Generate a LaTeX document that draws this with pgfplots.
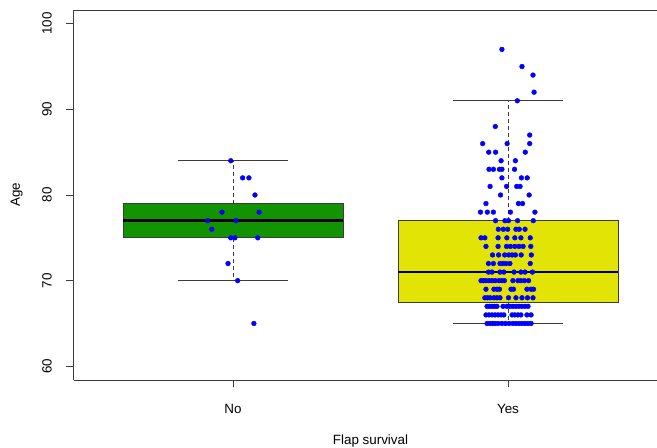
\documentclass[border=0pt]{standalone}
\usepackage{fontspec}
\setmainfont{Liberation Sans}
\usepackage{pgfplots}
\pgfplotsset{compat=1.18}
\definecolor{boxgreen}{RGB}{18,148,0}
\definecolor{boxyellow}{RGB}{226,228,6}
\definecolor{axgray}{RGB}{60,60,60}
\begin{document}
\begin{tikzpicture}
\useasboundingbox (0,0) rectangle (657bp,448bp);
\begin{axis}[
 at={(73.5bp,68bp)}, anchor=south west,
 width=583.5bp, height=370bp, scale only axis,
 xmin=0.42, xmax=2.542, ymin=58.4, ymax=101.6,
 separate axis lines,
 axis x line*=box, axis y line*=left,
 axis line style={axgray, line width=0.8bp},
 xtick={1,2}, xticklabels={No,Yes},
 ytick={60,70,80,90,100}, yticklabels={60,70,80,90,100},
 xtick pos=left, ytick pos=left,
 xtick align=outside, ytick align=outside,
 major tick length=7.5bp,
 every tick/.style={axgray, line width=0.8bp},
 every tick label/.append style={font=\fontsize{13.4bp}{16bp}\selectfont, inner sep=0pt},
 yticklabel style={xshift=-14bp, rotate=90, anchor=south},
 xticklabel style={yshift=-16.5bp, anchor=north},
 xlabel={Flap survival}, ylabel={Age},
 label style={font=\fontsize{13.4bp}{16bp}\selectfont, inner sep=0pt},
 xlabel style={at={(axis description cs:0.509,-0.173)}, anchor=base},
 ylabel style={at={(axis description cs:-0.0917,0.5)}, anchor=base},
]
% boxes (Q1..Q3)
\addplot[draw=axgray, fill=boxgreen, line width=0.8bp] coordinates {(0.6,75) (1.4,75) (1.4,79) (0.6,79)} -- cycle;
\addplot[draw=axgray, fill=boxyellow, line width=0.8bp] coordinates {(1.6,67.5) (2.4,67.5) (2.4,77) (1.6,77)} -- cycle;
% medians
\addplot[black, line width=2.8bp] coordinates {(0.6,77) (1.4,77)};
\addplot[black, line width=2.8bp] coordinates {(1.6,71) (2.4,71)};
% whiskers
\addplot[axgray, line width=0.8bp, dash pattern=on 4bp off 3bp] coordinates {(1,79) (1,84)};
\addplot[axgray, line width=0.8bp, dash pattern=on 4bp off 3bp] coordinates {(1,75) (1,70)};
\addplot[axgray, line width=0.8bp, dash pattern=on 4bp off 3bp] coordinates {(2,77) (2,91)};
\addplot[axgray, line width=0.8bp, dash pattern=on 4bp off 3bp] coordinates {(2,67.5) (2,65)};
% whisker caps
\addplot[axgray, line width=0.8bp] coordinates {(0.8,84) (1.2,84)};
\addplot[axgray, line width=0.8bp] coordinates {(0.8,70) (1.2,70)};
\addplot[axgray, line width=0.8bp] coordinates {(1.8,91) (2.2,91)};
\addplot[axgray, line width=0.8bp] coordinates {(1.8,65) (2.2,65)};
% jittered points, No
\addplot[only marks, mark=*, mark size=2.4bp, blue, mark options={draw=blue, fill=blue}] coordinates {
(0.992,84) (1.035,82) (1.058,82) (1.080,80) (0.960,78) (1.095,78)
(0.908,77) (1.011,77) (0.923,76) (0.992,75) (1.007,75) (1.090,75)
(0.982,72) (1.017,70) (1.076,65)
};
% jittered points, Yes
\addplot[only marks, mark=*, mark size=2.4bp, blue, mark options={draw=blue, fill=blue}] coordinates {
(1.978,97) (2.051,95) (2.091,94) (2.095,92) (2.034,91) (1.954,88) (2.079,87)
(1.908,86) (1.997,86) (2.079,86)
(1.930,85) (1.955,85) (2.063,85)
(1.975,84) (2.027,84)
(1.931,83) (1.947,83) (1.969,83) (1.978,83) (2.024,83)
(1.978,82) (2.049,82) (2.070,82)
(1.935,81) (1.995,81) (2.032,81) (2.044,81)
(1.973,80) (2.077,80)
(1.920,79) (2.038,79) (2.053,79)
(1.900,78) (1.925,78) (1.947,78) (2.009,78) (2.098,78)
(1.955,77) (1.989,77) (2.002,77) (2.035,77) (2.092,77)
(1.965,76) (1.983,76) (1.999,76) (2.029,76) (2.041,76) (2.062,76)
(1.902,75) (1.916,75) (1.964,75) (1.996,75) (2.025,75) (2.047,75) (2.081,75)
(1.920,74) (1.964,74) (1.995,74) (2.009,74) (2.025,74) (2.040,74) (2.055,74) (2.083,74)
(1.944,73) (1.966,73) (1.988,73) (2.003,73) (2.015,73) (2.027,73) (2.048,73) (2.085,73)
(1.929,72) (1.947,72) (1.971,72) (1.982,72) (1.993,72) (2.007,72) (2.081,72)
(1.929,71) (1.942,71) (1.971,71) (1.985,71) (2.022,71) (2.047,71) (2.062,71) (2.089,71)
(1.902,70) (1.911,70) (1.920,70) (1.931,70) (1.942,70) (1.953,70) (1.967,70) (1.978,70)
(1.987,70) (2.018,70) (2.036,70) (2.047,70) (2.060,70) (2.075,70)
(1.920,69) (1.949,69) (1.960,69) (1.969,69) (2.011,69) (2.020,69) (2.069,69) (2.084,69) (2.093,69)
(1.916,68) (1.925,68) (1.935,68) (1.949,68) (1.960,68) (1.971,68) (2.002,68) (2.029,68)
(2.051,68) (2.071,68) (2.091,68)
(1.924,67) (1.933,67) (1.942,67) (1.951,67) (1.960,67) (1.982,67) (1.996,67) (2.007,67)
(2.018,67) (2.029,67) (2.040,67) (2.051,67) (2.062,67) (2.073,67)
(1.920,66) (1.931,66) (1.942,66) (1.953,66) (1.964,66) (1.975,66) (1.985,66) (2.015,66)
(2.025,66) (2.036,66) (2.047,66) (2.069,66) (2.084,66)
(1.924,65) (1.935,65) (1.944,65) (1.953,65) (1.964,65) (1.978,65) (1.991,65) (2.004,65)
(2.018,65) (2.029,65) (2.040,65) (2.051,65) (2.062,65) (2.073,65) (2.084,65)
};
\end{axis}
\end{tikzpicture}
\end{document}
